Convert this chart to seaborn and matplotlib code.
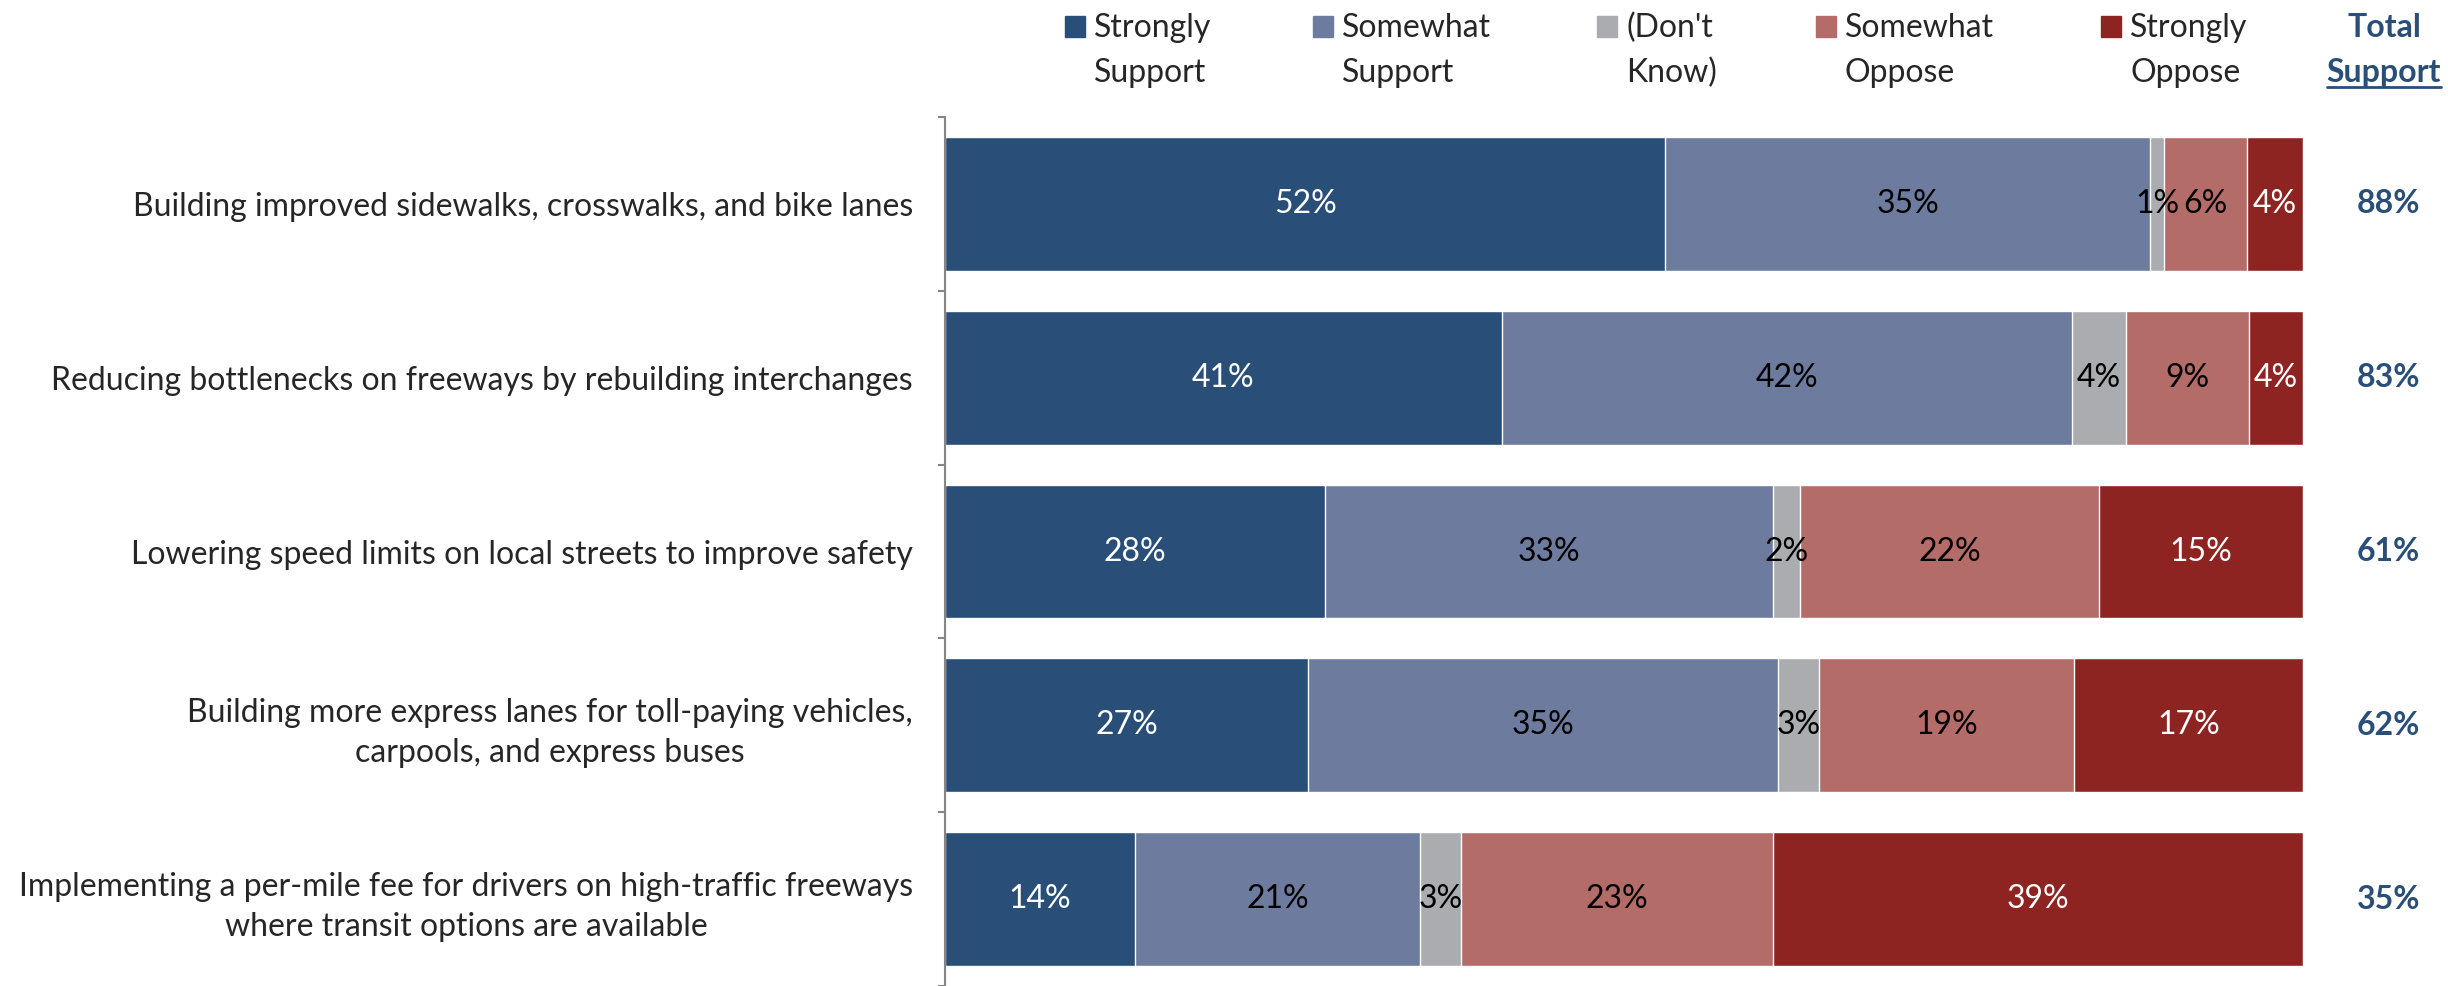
import pandas as pd
import matplotlib.pyplot as plt
import seaborn as sns
from matplotlib.patches import Rectangle
from matplotlib.lines import Line2D

items = [
    "Building improved sidewalks, crosswalks, and bike lanes",
    "Reducing bottlenecks on freeways by rebuilding interchanges",
    "Lowering speed limits on local streets to improve safety",
    "Building more express lanes for toll-paying vehicles,\ncarpools, and express buses",
    "Implementing a per-mile fee for drivers on high-traffic freeways\nwhere transit options are available",
]
strongly_support = [52, 41, 28, 27, 14]
somewhat_support = [35, 42, 33, 35, 21]
dont_know = [1, 4, 2, 3, 3]
somewhat_oppose = [6, 9, 22, 19, 23]
strongly_oppose = [4, 4, 15, 17, 39]
total_support = [88, 83, 61, 62, 35]

series = ["Strongly\nSupport", "Somewhat\nSupport", "(Don't\nKnow)", "Somewhat\nOppose", "Strongly\nOppose"]
colors = ["#294E78", "#6D7C9E", "#ABACB0", "#B46C69", "#8E2422"]
text_colors = ["white", "black", "black", "black", "white"]
navy = "#294E78"
fs = 23

sns.set_theme(style="white")
plt.rcParams['font.family'] = ['Lato', 'DejaVu Sans']

df = pd.DataFrame(dict(zip(series, [strongly_support, somewhat_support, dont_know,
                                    somewhat_oppose, strongly_oppose])), index=items)
# 100% stacked, like the original spreadsheet chart
shares = df.div(df.sum(axis=1), axis=0) * 100
cum = shares.cumsum(axis=1)

fig = plt.figure(figsize=(24.48, 9.86), dpi=100)
ax = fig.add_axes([0.386, 0.0, 0.5547, 0.8813])

# draw cumulative bars from the longest to the shortest so they stack
for name, color in reversed(list(zip(series, colors))):
    sns.barplot(x=cum[name].values, y=items, color=color, width=0.77,
                saturation=1, orient='h', ax=ax)

for i in range(len(items)):
    for j, name in enumerate(series):
        mid = cum[name].iloc[i] - shares[name].iloc[i] / 2
        ax.text(mid, i, f"{df[name].iloc[i]}%", ha='center', va='center',
                color=text_colors[j], fontsize=fs)
    ax.text(1.063, i, f"{total_support[i]}%", transform=ax.get_yaxis_transform(),
            ha='center', va='center', color=navy, fontsize=fs, fontweight='bold')

ax.set_xlim(0, 100)
ax.set_ylim(len(items) - 0.5, -0.5)
ax.set_xlabel("")
ax.set_ylabel("")
ax.set_xticks([])
ax.set_yticks(range(len(items)))
ax.set_yticklabels(items, fontsize=fs)
for lbl in ax.get_yticklabels():
    lbl.set_multialignment('center')
    lbl.set_linespacing(1.4)
ax.set_yticks([k - 0.5 for k in range(len(items) + 1)], minor=True)
ax.tick_params(axis='y', which='major', length=0, pad=23)
ax.tick_params(axis='y', which='minor', length=5, width=1.5, color='#868686', direction='out', left=True)
for side in ['top', 'right', 'bottom']:
    ax.spines[side].set_visible(False)
ax.spines['left'].set_color('#868686')
ax.spines['left'].set_linewidth(1.5)

# legend across the top
W, H = 2448, 986
legend_x = [1065, 1313, 1597, 1816, 2101]
for x, name, color in zip(legend_x, series, colors):
    fig.add_artist(Rectangle((x / W, 1 - 37 / H), 20 / W, 21 / H, color=color,
                             transform=fig.transFigure))
    line1, line2 = name.split("\n")
    fig.text((x + 29) / W, 1 - 37 / H, line1, fontsize=fs, va='baseline', ha='left')
    fig.text((x + 29) / W, 1 - 82 / H, line2, fontsize=fs, va='baseline', ha='left')

fig.text(2384 / W, 1 - 37 / H, "Total", fontsize=fs, fontweight='bold', color=navy,
         va='baseline', ha='center')
sup = fig.text(2384 / W, 1 - 82 / H, "Support", fontsize=fs, fontweight='bold', color=navy,
               va='baseline', ha='center')
fig.canvas.draw()
bb = sup.get_window_extent()
fig.add_artist(Line2D([bb.x0 / W, bb.x1 / W], [(H - 87) / H, (H - 87) / H],
                      color=navy, linewidth=2, transform=fig.transFigure))

fig.savefig("out.png", dpi=100)
